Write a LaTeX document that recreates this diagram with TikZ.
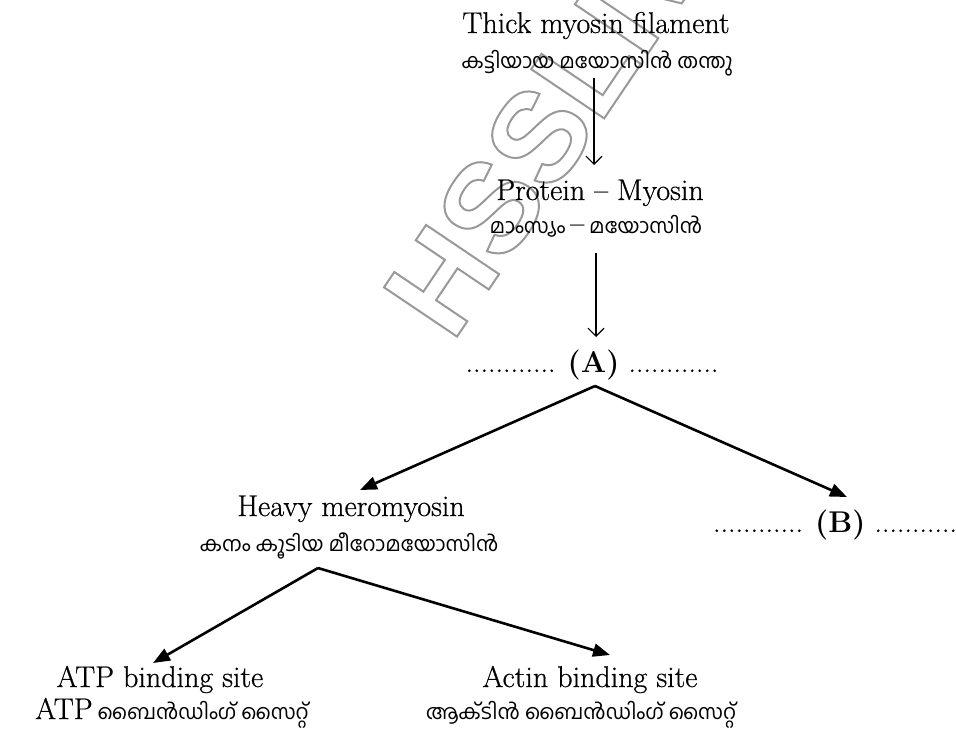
\documentclass[tikz,border=0pt]{standalone}
\usepackage{fontspec}
\usetikzlibrary{arrows.meta}
\setmainfont{Latin Modern Roman}[UprightFeatures={FakeBold=0.6}]
\newfontfamily\mal[Script=Malayalam]{Hind Kochi}
\newfontfamily\wmfont{Liberation Sans}
\tikzset{
  entxt/.style={font=\fontsize{15}{17}\selectfont, inner sep=0pt, anchor=base},
  maltxt/.style={font=\mal\fontsize{10.3}{12}\selectfont, inner sep=0pt, anchor=base},
  thinarrow/.style={line width=0.6pt, -{Straight Barb[length=4pt,width=8pt]}},
  thickarrow/.style={line width=1.3pt, -{Triangle[length=8.5pt,width=6.5pt]}},
}
\begin{document}
\begin{tikzpicture}[x=0.5pt,y=-0.5pt]
\useasboundingbox (0,0) rectangle (956,729);
% watermark
\begin{scope}
\clip (0,0) rectangle (956,729);
\node[inner sep=0pt, anchor=base west, rotate=56, text=black!40,
      font=\wmfont\bfseries\fontsize{64}{64}\selectfont] (wm) at (452,344)
  {\special{pdf:code 1 Tr 1 w}HSSLIVE\special{pdf:code 0 Tr}};
\end{scope}
% texts
\node[entxt] (t1) at (596,33) {Thick myosin filament};
\node[maltxt] (m1) at (597,68) {കട്ടിയായ മയോസിൻ തന്തു};
\node[entxt] (t2) at (600,200) {Protein -- Myosin};
\node[maltxt] (m2) at (596,233) {മാംസ്യം {\rmfamily\fontsize{15}{17}\selectfont --} മയോസിൻ};
\node[entxt] (A) at (592,372) {............ \textbf{(A)} ............};
\node[entxt] (B) at (835,532) {............ \textbf{(B)} ...........};
\node[entxt] (t3) at (351,516) {Heavy meromyosin};
\node[maltxt] (m3) at (349,551) {കനം കൂടിയ മീറോമയോസിൻ};
\node[entxt] (t4) at (160,687) {ATP binding site};
\node[maltxt] (m4) at (172,719) {{\fontsize{15}{17}\rmfamily ATP} ബൈൻഡിംഗ് സൈറ്റ്};
\node[entxt] (t5) at (590,687) {Actin binding site};
\node[maltxt] (m5) at (581,719) {ആക്ടിൻ ബൈൻഡിംഗ് സൈറ്റ്};
% connector points
\coordinate (a1s) at (594,78);
\coordinate (a1e) at (594,165);
\coordinate (a2s) at (596,253);
\coordinate (a2e) at (596,337);
\coordinate (apex1) at (595,386);
\coordinate (tipH) at (360,490);
\coordinate (tipB) at (847,497);
\coordinate (apex2) at (318,568);
\coordinate (tipATP) at (153,663);
\coordinate (tipAct) at (610,655);
\draw[thinarrow] (a1s) -- (a1e);
\draw[thinarrow] (a2s) -- (a2e);
\draw[thickarrow] (apex1) -- (tipH);
\draw[thickarrow] (apex1) -- (tipB);
\draw[thickarrow] (apex2) -- (tipATP);
\draw[thickarrow] (apex2) -- (tipAct);
\end{tikzpicture}
\end{document}
